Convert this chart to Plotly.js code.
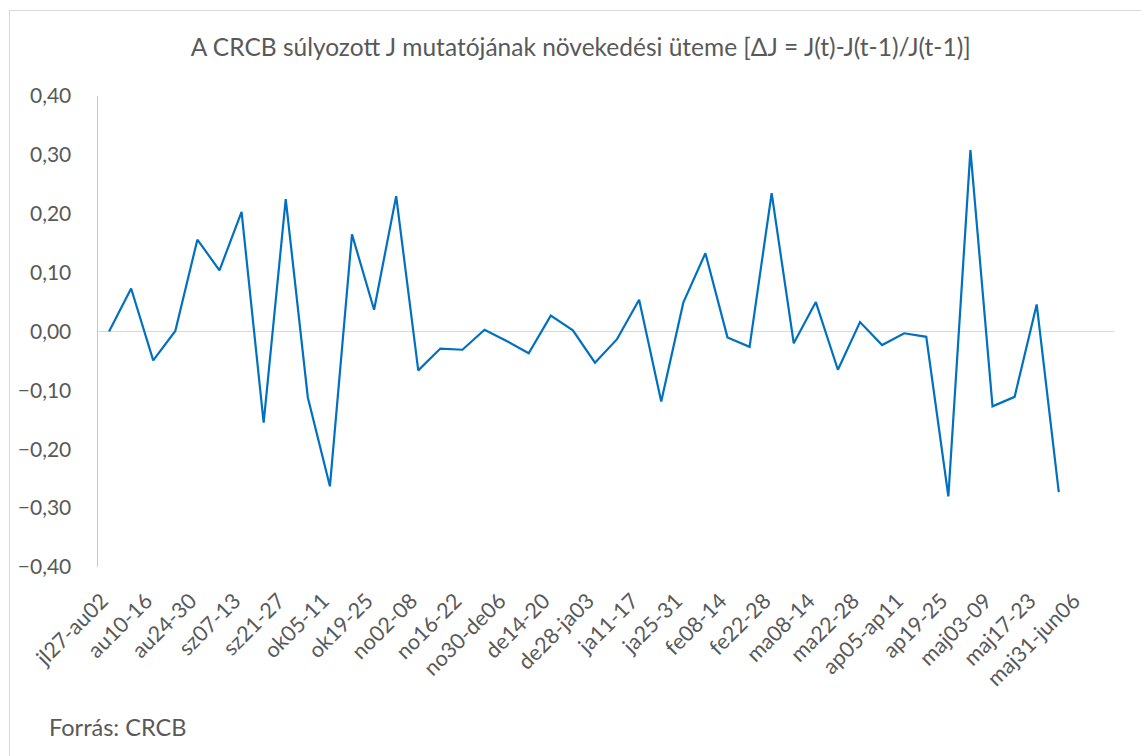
<!DOCTYPE html>
<html>
<head>
<meta charset="utf-8">
<script src="https://cdn.plot.ly/plotly-3.0.1.min.js"></script>
<style>
  html, body { margin: 0; padding: 0; background: #fff; }
  #wrap { position: relative; width: 1141px; height: 756px; overflow: hidden; }
  #chart { position: absolute; left: 0; top: 0; width: 1141px; height: 756px; }
  #frame { position: absolute; left: 9px; top: 10px; width: 1200px; height: 800px; border: 1px solid #d9d9d9; pointer-events: none; }
</style>
</head>
<body>
<div id="wrap"><div id="chart"></div><div id="frame"></div></div>
<script>
// Weekly categories (46 weeks)
const categories = [
  "jl27-au02","au03-09","au10-16","au17-23","au24-30","au31-sz06","sz07-13","sz14-20",
  "sz21-27","sz28-ok04","ok05-11","ok12-18","ok19-25","ok26-no01","no02-08","no09-15",
  "no16-22","no23-29","no30-de06","de07-13","de14-20","de21-27","de28-ja03","ja04-10",
  "ja11-17","ja18-24","ja25-31","fe01-07","fe08-14","fe15-21","fe22-28","ma01-07",
  "ma08-14","ma15-21","ma22-28","ma29-ap04","ap05-ap11","ap12-18","ap19-25","ap26-maj02",
  "maj03-09","maj10-16","maj17-23","maj24-30","maj31-jun06","jun07-13"
];
// Tick labels shown on the axis (every second week)
const tickLabels = [
  "jl27-au02","au10-16","au24-30","sz07-13","sz21-27","ok05-11","ok19-25","no02-08",
  "no16-22","no30-de06","de14-20","de28-ja03","ja11-17","ja25-31","fe08-14","fe22-28",
  "ma08-14","ma22-28","ap05-ap11","ap19-25","maj03-09","maj17-23","maj31-jun06"
];
// Growth rate of weighted J indicator (first 44 weeks)
const growth = [
  0.000, 0.073, -0.049, 0.001, 0.156, 0.104, 0.203, -0.155, 0.225, -0.112,
  -0.263, 0.165, 0.037, 0.230, -0.066, -0.029, -0.031, 0.003, -0.016, -0.037,
  0.027, 0.002, -0.053, -0.013, 0.054, -0.119, 0.049, 0.133, -0.010, -0.026,
  0.235, -0.020, 0.050, -0.065, 0.016, -0.023, -0.003, -0.009, -0.280, 0.308,
  -0.127, -0.111, 0.046, -0.273
];
const titleText = "A CRCB súlyozott J mutatójának növekedési üteme [ΔJ = J(t)-J(t-1)/J(t-1)]";
const sourceText = "Forrás: CRCB";

const FONT = "Lato, 'Open Sans', sans-serif";
const GREY = "#595959";

const trace = {
  type: "scatter",
  mode: "lines",
  x: categories.slice(0, growth.length),
  y: growth,
  line: { color: "#0070C0", width: 2.2 },
  hoverinfo: "x+y"
};

const layout = {
  width: 1141, height: 756,
  margin: { l: 98, r: 27, t: 96, b: 189 },
  paper_bgcolor: "rgba(0,0,0,0)",
  plot_bgcolor: "rgba(0,0,0,0)",
  separators: ", ",
  showlegend: false,
  font: { family: FONT, color: GREY, size: 20 },
  title: {
    text: titleText,
    font: { family: FONT, size: 24.5, color: GREY },
    xref: "container", x: 0.509, xanchor: "center",
    yref: "container", y: 1 - 47/756, yanchor: "middle"
  },
  xaxis: {
    type: "category",
    categoryorder: "array",
    categoryarray: categories,
    range: [-0.5, categories.length - 0.5],
    tickmode: "array",
    tickvals: tickLabels,
    ticktext: tickLabels,
    tickangle: -45,
    ticks: "",
    showgrid: false,
    showline: false,
    zeroline: false,
    ticklabelstandoff: 16,
    ticklabelshift: -7,
    tickfont: { family: FONT, size: 21.5, color: GREY }
  },
  yaxis: {
    range: [-0.4, 0.4],
    tickmode: "linear", tick0: -0.4, dtick: 0.1,
    tickformat: ".2f",
    showgrid: false,
    showline: true, linecolor: "#C8C8C8", linewidth: 1.5,
    zeroline: true, zerolinecolor: "#D9D9D9", zerolinewidth: 1.5,
    ticks: "",
    ticklabelstandoff: 21,
    tickfont: { family: FONT, size: 21, color: GREY }
  },
  annotations: [{
    text: sourceText,
    xref: "paper", yref: "paper",
    x: (47 - 98) / 1016, xanchor: "left",
    y: (567 - 727) / 471, yanchor: "middle",
    showarrow: false,
    font: { family: FONT, size: 23.5, color: GREY }
  }]
};

Plotly.newPlot("chart", [trace], layout, { displayModeBar: false, staticPlot: true });
</script>
</body>
</html>
